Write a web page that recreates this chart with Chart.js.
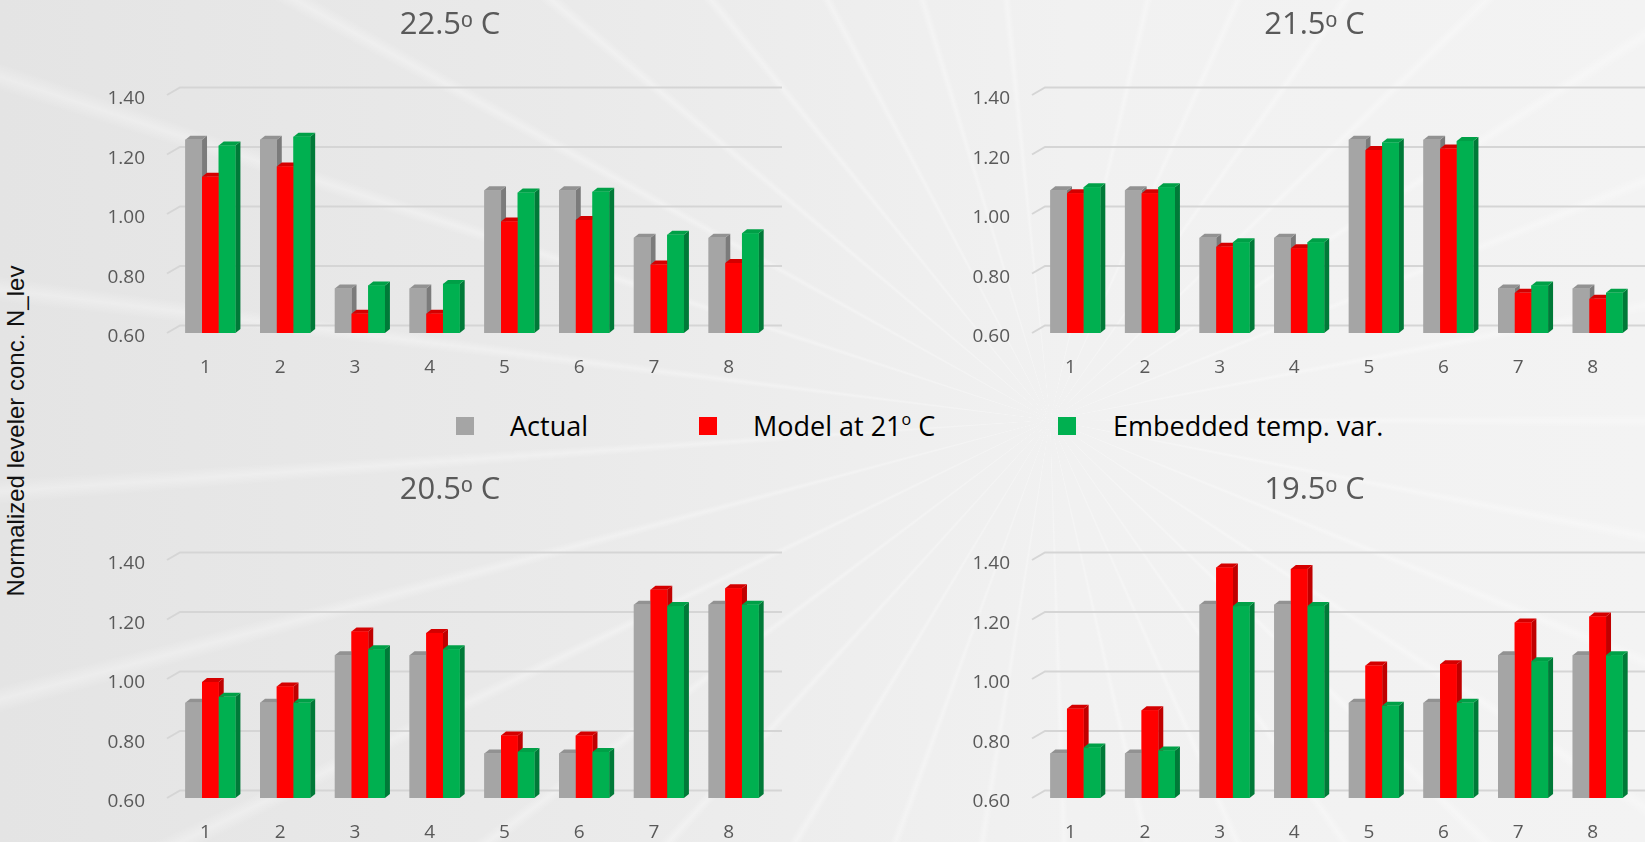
<!DOCTYPE html>
<html>
<head>
<meta charset="utf-8">
<script src="https://cdn.jsdelivr.net/npm/chart.js@4.4.1/dist/chart.umd.min.js"></script>
<style>
  html, body { margin: 0; padding: 0; }
  body {
    width: 1645px; height: 842px; overflow: hidden; position: relative;
    background:
      repeating-conic-gradient(from 3deg at 1050px 420px, rgba(255,255,255,0) 0deg 9.4deg, rgba(255,255,255,0.3) 10.1deg, rgba(255,255,255,0) 10.8deg 11deg),
      linear-gradient(90deg, #e4e4e4 0%, #eaeaea 35%, #f1f1f1 65%, #f3f3f3 100%);
    font-family: "Open Sans", sans-serif;
  }
  canvas { position: absolute; }
  #yTitle {
    position: absolute; left: 16px; top: 431px;
    transform: translate(-50%, -50%) rotate(-90deg);
    white-space: nowrap; font-family: "Liberation Sans", Arial, sans-serif;
    font-size: 24px; color: #111;
  }
  .lg-box { position: absolute; width: 18px; height: 18px; top: 417px; }
  .lg-text { position: absolute; top: 407px; font-size: 27px; line-height: 38px; color: #000; white-space: nowrap; }
  .lg-text sup { font-size: 16px; vertical-align: 0; position: relative; top: -11px; }
</style>
</head>
<body>
<div id="yTitle">Normalized leveler conc. N_lev</div>
<div class="lg-box" style="left:456px;background:#a5a5a5"></div>
<div class="lg-text" style="left:510px">Actual</div>
<div class="lg-box" style="left:699px;background:#ff0000"></div>
<div class="lg-text" style="left:753px">Model at 21<sup>o</sup> C</div>
<div class="lg-box" style="left:1058px;background:#00b050"></div>
<div class="lg-text" style="left:1113px">Embedded temp. var.</div>

<canvas id="p1" width="900" height="400" style="left:0px;top:0px"></canvas>
<canvas id="p2" width="699" height="400" style="left:965px;top:0px"></canvas>
<canvas id="p3" width="900" height="377" style="left:0px;top:465px"></canvas>
<canvas id="p4" width="699" height="377" style="left:965px;top:465px"></canvas>

<script>
// Sample positions along the bath and the value-axis ticks
const categories = ['1', '2', '3', '4', '5', '6', '7', '8'];
const yTickValues = [0.6, 0.8, 1.0, 1.2, 1.4];
const yTickLabels = ['0.60', '0.80', '1.00', '1.20', '1.40'];
const seriesNames = ['Actual', 'Model at 21ᵒ C', 'Embedded temp. var.'];

// 22.5 °C
const actual225   = [1.25, 1.25, 0.75, 0.75, 1.08, 1.08, 0.92, 0.92];
const model225    = [1.125, 1.16, 0.665, 0.665, 0.975, 0.98, 0.83, 0.835];
const embedded225 = [1.23, 1.26, 0.76, 0.765, 1.072, 1.075, 0.93, 0.935];
// 21.5 °C
const actual215   = [1.08, 1.08, 0.92, 0.92, 1.25, 1.25, 0.75, 0.75];
const model215    = [1.07, 1.07, 0.89, 0.885, 1.215, 1.22, 0.735, 0.715];
const embedded215 = [1.09, 1.09, 0.905, 0.905, 1.24, 1.245, 0.76, 0.735];
// 20.5 °C
const actual205   = [0.92, 0.92, 1.08, 1.08, 0.75, 0.75, 1.25, 1.25];
const model205    = [0.99, 0.975, 1.16, 1.155, 0.81, 0.81, 1.30, 1.305];
const embedded205 = [0.94, 0.92, 1.10, 1.10, 0.755, 0.755, 1.245, 1.25];
// 19.5 °C
const actual195   = [0.75, 0.75, 1.25, 1.25, 0.92, 0.92, 1.08, 1.08];
const model195    = [0.90, 0.895, 1.375, 1.37, 1.045, 1.05, 1.19, 1.21];
const embedded195 = [0.77, 0.76, 1.245, 1.245, 0.91, 0.92, 1.06, 1.08];

// Face colours for the extruded columns: front, top, side
const faces = [
  { front: '#a5a5a5', top: '#929292', side: '#7b7b7b' },
  { front: '#ff0000', top: '#d40000', side: '#c00000' },
  { front: '#00b050', top: '#00a047', side: '#007a38' }
];
const DX = 5, DY = -4;          // column depth
const WALL_L = 7, WALL_R = 11, WALL_DY = -7.5, FLOOR_L = -6;

const depth3d = {
  id: 'depth3d',
  beforeDatasetsDraw(chart) {
    const { ctx, chartArea: a, scales: { y } } = chart;
    ctx.save();
    ctx.strokeStyle = '#d5d5d5';
    ctx.lineWidth = 2;
    y.ticks.forEach(t => {
      const yf = y.getPixelForValue(t.value);
      ctx.beginPath();
      ctx.moveTo(a.left + FLOOR_L, yf);
      ctx.lineTo(a.left + WALL_L, yf + WALL_DY);
      ctx.lineTo(a.right + WALL_R, yf + WALL_DY);
      ctx.stroke();
    });
    ctx.restore();
  },
  afterDatasetsDraw(chart) {
    const ctx = chart.ctx;
    ctx.save();
    chart.data.datasets.forEach((ds, i) => {
      const f = faces[i];
      chart.getDatasetMeta(i).data.forEach(bar => {
        const { x, y, base, width } = bar.getProps(['x', 'y', 'base', 'width'], true);
        const l = x - width / 2, r = x + width / 2;
        ctx.fillStyle = f.side;
        ctx.beginPath();
        ctx.moveTo(r, y); ctx.lineTo(r + DX, y + DY);
        ctx.lineTo(r + DX, base + DY); ctx.lineTo(r, base);
        ctx.closePath(); ctx.fill();
        ctx.fillStyle = f.top;
        ctx.beginPath();
        ctx.moveTo(l, y); ctx.lineTo(l + DX, y + DY);
        ctx.lineTo(r + DX, y + DY); ctx.lineTo(r, y);
        ctx.closePath(); ctx.fill();
        ctx.fillStyle = f.front;
        ctx.fillRect(l, y, width, base - y);
      });
    });
    ctx.restore();
  }
};

// yW: width of the value axis; rW: blank strip on the right so the title centres over the panel
function makePanel(id, title, series, yW, rW, xH) {
  new Chart(document.getElementById(id), {
    type: 'bar',
    data: {
      labels: categories,
      datasets: series.map((vals, i) => ({
        label: seriesNames[i],
        data: vals,
        base: yTickValues[0],
        xAxisID: 'x',
        yAxisID: 'y',
        backgroundColor: faces[i].front,
        borderWidth: 0,
        categoryPercentage: 0.67,
        barPercentage: 1.0
      }))
    },
    options: {
      responsive: false,
      animation: false,
      events: [],
      layout: { padding: 0 },
      plugins: {
        legend: { display: false },
        tooltip: { enabled: false },
        title: {
          display: true, text: title, color: '#595959',
          font: { family: '"Open Sans", sans-serif', size: 31, weight: 'normal', lineHeight: 1.2 },
          padding: { top: 6.4, bottom: 51.4 }
        }
      },
      scales: {
        x: {
          grid: { display: false, drawTicks: false },
          border: { display: false },
          ticks: {
            color: '#595959', padding: 23.6, labelOffset: -5,
            font: { family: '"Open Sans", sans-serif', size: 19 }
          },
          afterFit: s => { s.height = xH; }
        },
        y: {
          position: 'left',
          min: yTickValues[0], max: yTickValues[yTickValues.length - 1],
          afterBuildTicks: s => { s.ticks = yTickValues.map(v => ({ value: v })); },
          grid: { display: false, drawTicks: false },
          border: { display: false },
          ticks: {
            color: '#595959', padding: 28, labelOffset: 4,
            font: { family: '"Open Sans", sans-serif', size: 19 },
            callback: (v, i) => yTickLabels[i]
          },
          afterFit: s => { s.width = yW; }
        },
        yr: {
          position: 'right',
          min: yTickValues[0], max: yTickValues[yTickValues.length - 1],
          grid: { display: false, drawTicks: false },
          border: { display: false },
          ticks: { display: false },
          afterFit: s => { s.width = rW; }
        }
      }
    },
    plugins: [depth3d]
  });
}

makePanel('p1', '22.5ᵒ C', [actual225, model225, embedded225], 173, 129, 67);
makePanel('p2', '21.5ᵒ C', [actual215, model215, embedded215], 73, 29, 67);
makePanel('p3', '20.5ᵒ C', [actual205, model205, embedded205], 173, 129, 44);
makePanel('p4', '19.5ᵒ C', [actual195, model195, embedded195], 73, 29, 44);
</script>
</body>
</html>
